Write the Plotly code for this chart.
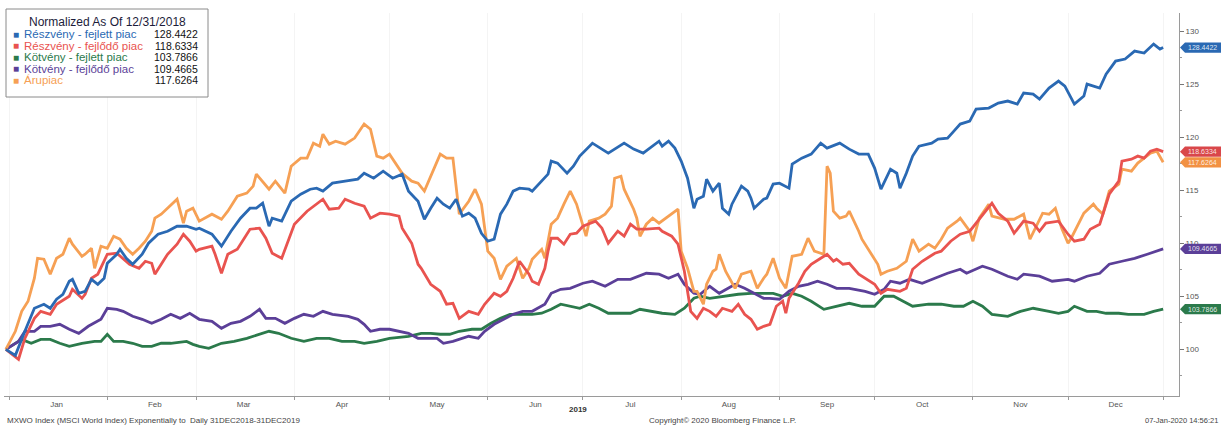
import pandas as pd
import plotly.graph_objects as go

BASE = pd.Timestamp("2018-12-31")

# ---- data: day offsets from 31 Dec 2018 and normalized values ----
blue_days = [0,3,6,9,12,14,16,18,20,21,23,25,27,29,31,32,35,36,38,40,43,45,48,51,54,57,60,61,65,68,
             71,74,77,79,81,83,84,87,90,93,96,98,100,103,107,111,113,116,119,122,125,127,130,132,134,136,138,140,142,144,
             146,148,150,152,154,156,158,160,162,165,166,169,171,172,174,177,179,181,185,190,195,198,201,206,207,209,211,213,215,217,
             218,220,221,223,225,226,228,229,231,232,234,235,236,239,240,242,244,247,248,251,254,257,259,263,266,269,272,274,276,279,
             281,282,284,286,288,292,294,297,299,301,304,306,310,313,316,319,321,324,326,329,332,334,337,340,341,345,347,350,353,356,
             359,362,364,365]
blue_vals = [100,99.43,101.70,103.87,104.25,103.87,104.72,105.19,106.42,106.60,105.28,105.47,106.60,106.13,106.70,108.11,108.96,109.43,108.58,108.02,
             108.96,110.00,110.85,111.13,111.60,111.60,111.32,111.42,110.85,109.72,111.13,112.36,113.30,113.30,113.77,111.60,112.36,112.08,113.96,114.62,
             115.09,115.19,114.91,115.66,115.85,116.04,116.60,116.13,116.79,116.13,116.51,114.91,113.96,112.26,113.30,114.25,113.68,113.30,114.15,112.55,
             112.83,112.36,110.94,110.19,110.38,112.74,113.68,114.91,115.19,115.09,114.91,115.85,116.51,117.74,117.55,116.60,117.26,118.21,119.43,118.49,
             119.43,118.87,118.49,119.62,119.15,119.62,118.96,117.74,116.13,113.30,114.15,114.43,116.04,114.91,115.66,113.30,112.74,113.68,114.91,115.38,
             114.91,114.25,113.30,114.15,114.25,115.57,115.66,115.19,117.45,118.02,118.40,119.43,118.96,119.43,118.87,118.40,118.40,117.08,115.09,116.98,
             116.60,115.19,116.60,118.21,119.15,119.43,119.81,119.91,120.57,121.23,121.51,122.64,122.74,123.21,123.40,123.11,124.15,124.06,123.58,124.62,
             125.28,124.81,123.11,123.87,125.00,124.62,125.94,127.17,127.36,128.11,127.92,128.77,128.30,128.44]

red_days = [0,4,6,9,11,14,16,20,21,24,25,27,29,31,32,35,37,39,42,44,46,47,49,51,54,56,58,60,61,65,
            66,68,70,73,77,80,82,84,87,89,91,95,98,100,102,105,107,110,113,115,118,121,124,125,128,130,131,134,137,139,
            141,143,146,149,151,154,156,158,160,162,165,166,168,170,171,172,174,176,178,180,182,186,188,190,193,195,197,199,202,206,
            207,210,212,214,216,218,220,222,224,226,229,231,233,235,237,239,241,243,245,246,247,250,252,254,257,259,261,262,264,266,
            269,270,274,276,278,282,284,286,289,293,295,298,301,304,307,311,313,316,318,321,324,326,328,332,335,337,340,342,345,346,
            348,351,352,355,357,359,361,363,365]
red_vals = [100,99.06,101.04,102.92,103.58,103.30,104.25,105.00,105.66,104.81,105.19,106.70,107.08,108.30,108.96,109.06,108.58,108.02,107.64,108.30,
            108.11,107.08,108.02,108.96,109.91,110.85,110.19,109.25,109.43,109.72,108.96,107.17,108.96,109.43,111.32,111.42,110.47,109.06,108.58,110.19,
            111.79,113.02,113.68,114.15,113.21,113.30,114.15,113.77,113.49,112.36,112.83,112.74,112.55,111.42,110.00,108.02,107.64,106.13,105.47,104.25,
            104.34,102.92,103.58,103.30,104.25,105.28,105.00,105.47,106.70,108.30,107.08,106.42,106.13,107.64,109.25,110.47,110.47,109.91,110.85,110.94,
            111.60,112.08,111.42,110.00,111.13,110.66,111.79,111.32,111.32,111.42,111.13,110.66,109.91,107.36,103.58,102.92,103.87,103.58,103.11,103.87,
            103.58,104.25,103.30,102.83,101.89,102.17,102.36,104.06,104.53,103.40,104.81,106.23,107.36,108.02,108.58,108.96,108.30,108.49,108.02,108.11,
            107.08,106.89,106.13,105.28,105.66,105.47,105.75,107.55,108.30,109.06,109.25,110.19,110.85,111.13,112.26,113.77,112.83,112.08,110.94,112.08,
            111.89,111.13,111.89,112.08,110.85,110.19,110.38,111.32,111.79,112.74,114.62,115.85,117.74,117.92,118.21,118.02,118.68,118.87,118.63]

orange_days = [0,3,5,7,9,10,12,14,16,18,20,21,24,25,27,28,30,32,34,36,38,40,42,44,46,47,49,51,54,56,
               57,59,61,65,68,70,73,76,78,79,81,83,85,88,90,93,95,97,99,100,102,104,107,110,113,115,117,119,121,124,
               125,128,130,132,135,137,139,141,143,146,148,150,152,154,156,158,161,163,165,166,169,170,172,174,176,178,180,182,183,184,
               187,189,191,192,194,195,198,199,200,202,204,206,210,212,213,215,217,218,220,221,223,224,225,227,230,232,235,237,239,240,
               242,244,246,248,251,253,255,258,259,260,261,263,265,266,269,270,273,275,276,278,281,284,286,288,291,293,295,297,300,301,
               304,305,307,310,311,315,318,321,323,325,327,329,331,333,335,336,339,340,343,344,346,348,351,352,355,357,359,361,363,365]
orange_vals = [100,101.70,103.58,104.53,106.70,108.58,108.49,107.08,108.58,108.96,110.47,109.91,108.77,108.96,109.53,107.64,109.72,109.53,110.66,110.38,
               109.53,108.96,109.53,110.19,111.13,112.36,112.74,113.30,114.15,111.89,113.02,113.30,112.08,112.74,112.26,113.02,114.43,114.72,115.38,116.51,
               115.85,115.09,115.85,114.72,117.26,118.02,118.02,119.43,119.15,120.28,119.34,119.62,119.34,119.91,121.23,120.75,118.21,118.02,118.40,117.08,
               116.60,115.85,115.66,114.91,116.98,118.40,118.02,118.02,112.74,113.96,115.09,113.68,109.25,108.58,106.60,107.83,108.58,106.70,107.64,108.49,
               109.43,108.58,111.79,112.36,113.68,114.91,113.68,111.79,110.66,112.08,112.36,112.74,113.49,116.13,116.32,115.09,113.21,112.36,110.66,111.79,
               112.36,111.89,112.74,113.21,109.25,107.64,105.47,105.47,104.25,106.13,107.36,107.55,108.96,107.36,105.75,107.08,107.36,105.75,106.70,107.08,
               108.58,106.70,105.75,108.77,108.96,110.47,109.25,108.96,117.26,116.60,113.02,112.36,112.55,113.02,111.13,110.38,108.96,108.02,107.08,107.36,
               107.64,108.30,110.38,109.25,109.91,109.53,110.38,111.42,112.08,112.36,111.13,110.19,112.36,113.68,112.55,112.26,112.26,112.74,110.38,111.60,
               112.83,112.74,113.30,111.42,110.00,110.47,112.36,112.83,113.68,113.30,112.74,114.91,115.57,116.98,116.79,117.55,118.02,118.49,118.68,117.63]

purple_days = [0,4,6,9,11,14,17,20,23,26,30,32,35,37,40,43,46,49,52,55,58,61,65,68,71,74,77,80,82,85,
               88,91,94,97,100,103,108,111,113,115,118,121,127,130,136,138,141,143,146,149,151,154,157,160,163,166,170,172,175,178,
               182,185,189,193,197,202,206,209,212,214,217,219,222,225,230,233,236,239,241,244,247,250,253,256,259,262,266,271,274,277,
               279,282,285,289,293,297,301,303,308,311,316,319,321,326,330,335,337,341,345,348,352,356,360,363,365]
purple_vals = [100,100.75,101.70,101.70,102.17,102.17,102.36,101.89,101.51,102.17,102.83,103.87,103.77,103.58,103.11,102.83,102.45,102.83,103.30,102.92,
               103.40,102.83,102.64,101.98,102.45,102.64,103.11,103.77,102.92,102.92,102.45,102.92,103.30,103.11,103.58,103.30,103.11,102.83,102.36,101.70,
               101.89,101.89,101.51,101.04,101.04,100.57,100.75,100.94,101.23,101.04,101.70,102.36,102.83,103.30,103.58,103.58,104.25,105.28,105.66,105.75,
               106.23,106.42,105.94,106.60,106.60,107.17,107.08,106.70,107.08,106.13,105.28,105.19,105.94,105.28,106.13,105.75,105.28,104.81,104.81,104.72,
               105.47,105.94,106.13,106.42,106.13,105.75,105.75,105.47,105.19,105.66,106.42,106.23,106.60,106.23,106.70,107.17,107.55,107.17,107.83,107.55,
               106.89,106.60,107.08,106.89,106.42,106.60,106.42,106.89,107.17,108.02,108.30,108.58,108.96,109.25,109.47]

green_days = [0,5,8,11,14,17,20,24,28,30,32,34,37,40,43,46,49,52,57,59,61,64,68,72,76,80,83,86,90,94,
              98,102,106,110,113,117,121,127,131,134,137,140,143,147,150,153,156,159,162,166,169,172,175,178,181,184,187,190,194,197,
              200,204,207,211,214,217,219,222,226,231,235,239,242,245,248,251,254,258,262,266,270,274,277,280,283,286,291,295,299,302,
              305,308,311,316,320,324,329,332,335,337,341,344,347,351,354,359,362,365]
green_vals = [100,100.94,100.57,100.94,100.94,100.57,100.28,100.57,100.75,100.75,101.42,100.75,100.75,100.57,100.28,100.28,100.57,100.57,100.75,100.47,
              100.28,100.09,100.57,100.75,101.04,101.42,101.70,101.51,101.04,100.75,101.04,101.04,100.75,100.75,100.57,100.75,101.04,101.23,101.51,101.51,
              101.42,101.42,101.70,101.89,101.89,102.45,102.92,103.30,103.30,103.30,103.40,103.77,104.25,104.06,103.87,104.25,103.87,103.40,103.40,103.40,
              103.77,103.58,103.40,103.30,103.87,104.81,105.00,104.81,105.00,105.19,105.28,105.28,105.28,105.00,105.28,105.00,104.53,103.77,104.06,104.34,
              104.06,104.06,105.00,105.00,104.53,104.06,104.25,104.25,104.06,104.06,104.53,104.06,103.30,103.11,103.58,103.87,103.58,103.40,103.58,104.06,
              103.58,103.58,103.40,103.40,103.30,103.30,103.58,103.79]

names = ["Részvény - fejlett piac", "Részvény - fejlődő piac", "Kötvény - fejlett piac",
         "Kötvény - fejlődő piac", "Árupiac"]
last_values = ["128.4422", "118.6334", "103.7866", "109.4665", "117.6264"]
last_numeric = [128.4422, 118.6334, 103.7866, 109.4665, 117.6264]
colors = ["#2a69b3", "#e9534f", "#2b7a4b", "#5b3f98", "#f6a054"]
tag_colors = ["#2a69b3", "#d9474a", "#2b7a4b", "#5b3f98", "#f29143"]

month_labels = ["Jan", "Feb", "Mar", "Apr", "May", "Jun", "Jul", "Aug", "Sep", "Oct", "Nov", "Dec"]
y_ticks = [100, 105, 110, 115, 120, 125, 130]

series_days = [blue_days, red_days, green_days, purple_days, orange_days]
series_vals = [blue_vals, red_vals, green_vals, purple_vals, orange_vals]
for d, v in zip(series_days, series_vals):
    assert len(d) == len(v), (len(d), len(v))

W, H = 1221, 426
ML, MR, MT, MB = 4, 42, 13, 30
PW, PH = W - ML - MR, H - MT - MB


def px(x):
    return (x - ML) / PW


def py(y):
    return (H - MB - y) / PH


fig = go.Figure()
draw_order = [2, 3, 4, 1, 0]
for i in draw_order:
    dates = BASE + pd.to_timedelta(series_days[i], unit="D")
    fig.add_trace(go.Scatter(x=dates, y=series_vals[i], mode="lines", name=names[i],
                             line=dict(color=colors[i], width=2.8), showlegend=False,
                             hoverinfo="skip"))

mid_month = [pd.Timestamp(2019, m, 16) for m in range(1, 13)]
month_starts = [pd.Timestamp(2019, m, 1) for m in range(1, 13)] + [pd.Timestamp(2019, 12, 31)]

fig.update_layout(
    width=W, height=H,
    margin=dict(l=ML, r=MR, t=MT, b=MB),
    paper_bgcolor="white", plot_bgcolor="white",
    font=dict(family="Liberation Sans, Arial, sans-serif"),
    xaxis=dict(
        type="date",
        range=[BASE - pd.Timedelta(hours=14), pd.Timestamp("2020-01-05")],
        tickmode="array", tickvals=mid_month, ticktext=month_labels,
        ticks="", tickfont=dict(size=8, color="#555"),
        showline=True, linecolor="#9a9a9a", linewidth=1,
        showgrid=False, zeroline=False,
        minor=dict(tickmode="array", tickvals=month_starts, ticks="outside", ticklen=3,
                   tickcolor="#9a9a9a", showgrid=True, gridcolor="#f4f4f4", gridwidth=1),
    ),
    yaxis=dict(
        side="right", range=[95.6, 131.7],
        tickmode="array", tickvals=y_ticks, ticks="outside", ticklen=4, tickcolor="#777",
        tickfont=dict(size=8, color="#555"),
        showline=True, linecolor="#9a9a9a", linewidth=1,
        showgrid=False, zeroline=False,
        minor=dict(dtick=2.5, tick0=0, ticks="outside", ticklen=2, tickcolor="#999"),
    ),
)

# right-side value tags
for i in range(5):
    v = last_numeric[i]
    h = 0.48
    x0, x1, x2 = px(1180), px(1185), px(1221)
    fig.add_shape(type="path", xref="paper", yref="y",
                  path=f"M {x0},{v} L {x1},{v + h} L {x2},{v + h} L {x2},{v - h} L {x1},{v - h} Z",
                  fillcolor=tag_colors[i], line=dict(width=0), layer="above")
    fig.add_annotation(xref="paper", yref="y", x=px(1186), y=v, xanchor="left", yanchor="middle",
                       text=last_values[i], showarrow=False,
                       font=dict(size=7, color="rgba(255,255,255,0.85)"))

# legend box
fig.add_shape(type="rect", xref="paper", yref="paper",
              x0=px(6), x1=px(208), y0=py(97), y1=py(9),
              line=dict(color="#8a8a8a", width=1), fillcolor="white", layer="above")
fig.add_annotation(xref="paper", yref="paper", x=px(107), y=py(22), xanchor="center", yanchor="middle",
                   text="Normalized As Of 12/31/2018", showarrow=False,
                   font=dict(size=12, color="#1c1c3a"))
row_y = [34, 45.5, 57, 68.5, 80]
for i in range(5):
    fig.add_annotation(xref="paper", yref="paper", x=px(11), y=py(row_y[i]), xanchor="left", yanchor="middle",
                       text="■", showarrow=False, font=dict(size=10, color=colors[i]))
    fig.add_annotation(xref="paper", yref="paper", x=px(22), y=py(row_y[i]), xanchor="left", yanchor="middle",
                       text=names[i], showarrow=False, font=dict(size=11.5, color=colors[i]))
    fig.add_annotation(xref="paper", yref="paper", x=px(200), y=py(row_y[i]), xanchor="right", yanchor="middle",
                       text=last_values[i], showarrow=False, font=dict(size=10.5, color="#111"))

# year label and footers
fig.add_annotation(xref="paper", yref="paper", x=px(578), y=py(409), xanchor="center", yanchor="middle",
                   text="<b>2019</b>", showarrow=False, font=dict(size=8, color="#333"))
fig.add_annotation(xref="paper", yref="paper", x=px(5), y=py(420), xanchor="left", yanchor="middle",
                   text="MXWO Index (MSCI World Index) Exponentially to  Daily 31DEC2018-31DEC2019",
                   showarrow=False, font=dict(size=8, color="#444"))
fig.add_annotation(xref="paper", yref="paper", x=px(722), y=py(420), xanchor="center", yanchor="middle",
                   text="Copyright© 2020 Bloomberg Finance L.P.", showarrow=False,
                   font=dict(size=8, color="#444"))
fig.add_annotation(xref="paper", yref="paper", x=px(1220), y=py(420), xanchor="right", yanchor="middle",
                   text="07-Jan-2020 14:56:21", showarrow=False, font=dict(size=7.5, color="#444"))

fig.write_html("out.html", config={"displayModeBar": False},
               post_script="document.body.style.margin='0';document.body.style.overflow='hidden';")
